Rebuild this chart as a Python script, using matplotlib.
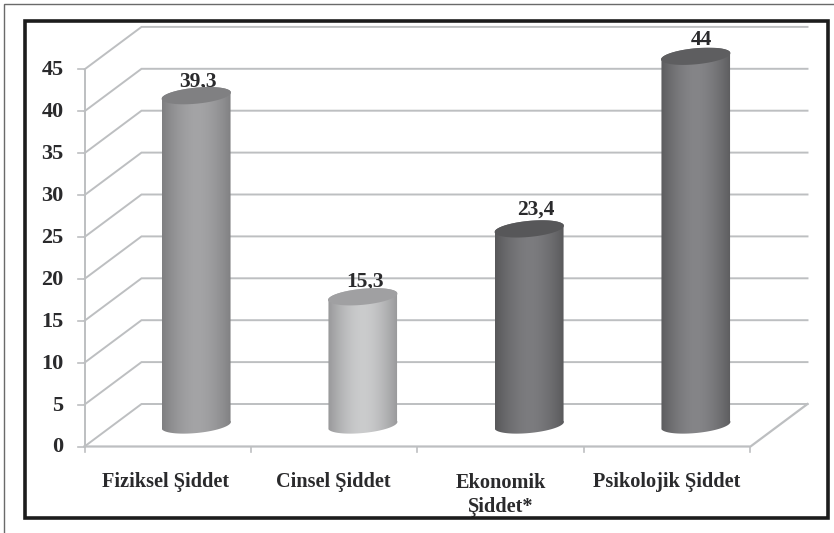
import numpy as np
import matplotlib
matplotlib.use("Agg")
import matplotlib.pyplot as plt
from matplotlib.patches import Rectangle, PathPatch
from matplotlib.path import Path

categories = ["Fiziksel Şiddet", "Cinsel Şiddet", "Ekonomik\nŞiddet*", "Psikolojik Şiddet"]
values = [39.3, 15.3, 23.4, 44]
value_labels = ["39,3", "15,3", "23,4", "44"]
yticks = [0, 5, 10, 15, 20, 25, 30, 35, 40, 45]

# colours per bar: edge of gradient, centre of gradient, top cap
edge_cols = ["#7f7f81", "#98989a", "#58585a", "#5c5c5e"]
mid_cols = ["#a4a4a6", "#cbcccd", "#7c7c7f", "#858588"]
cap_cols = ["#808082", "#a0a0a2", "#575759", "#5e5e60"]

# label placement tweaks in pixels
label_dx = [2, 2, 7, 6]
label_dy = [14, 15, 19, 16]
cat_dx = [-2, -1, 0, -1]

W, H = 834, 533
PX_X = 166.5          # px per category
PX_Y = 8.38           # px per value unit
X0, Y0 = 84.5, 446.5  # pixel of the origin

fig = plt.figure(figsize=(W / 100, H / 100), dpi=100, facecolor="white")
ax = fig.add_axes([0, 0, 1, 1])
ax.set_xlim(-X0 / PX_X, (W - X0) / PX_X)
ax.set_ylim((Y0 - H) / PX_Y, Y0 / PX_Y)
ax.axis("off")


def pxx(p):
    return p / PX_X


def pxy(p):
    return p / PX_Y


TEXT = "#2a2a2c"

# frames
fig.add_artist(Rectangle((3.5 / W, -0.02), (W + 20) / W, (H - 3.5) / H + 0.02,
                         transform=fig.transFigure, fill=False, ec="#6a6a6a", lw=1.0))
fig.add_artist(Rectangle((24.5 / W, 1 - 518 / H), (827.5 - 24.5) / W, (518 - 21) / H,
                         transform=fig.transFigure, fill=False, ec="#1c1c1c", lw=2.6))

# 3D walls
DX, DY = pxx(57), pxy(42.5)
GRID = "#bdbfc1"
n = len(categories)
for v in yticks:
    ax.plot([0, DX, DX + n], [v, v + DY, v + DY],
            color=GRID, lw=1.4, zorder=1, solid_joinstyle="miter")
    ax.plot([-pxx(7), 0], [v, v], color=GRID, lw=1.2, zorder=1)
    ax.text(-pxx(21), v - pxy(1), str(v), ha="right", va="center", family="Liberation Serif",
            fontweight="bold", fontsize=16, color=TEXT)
ax.plot([0, 0], [0, yticks[-1]], color=GRID, lw=1.4, zorder=1)
ax.plot([0, n, n + DX], [0, 0, DY], color=GRID, lw=1.6, zorder=1)
for i in range(n + 1):
    ax.plot([i, i], [0, -pxy(5)], color=GRID, lw=1.2, zorder=1)

# cylinders
TILT = np.deg2rad(5.5)
SEMI_A, SEMI_B = 34.8, 8.0


def ellipse_pts(cx, cy, t):
    ex = SEMI_A * np.cos(t)
    ey = SEMI_B * np.sin(t)
    xr = ex * np.cos(TILT) - ey * np.sin(TILT)
    yr = ex * np.sin(TILT) + ey * np.cos(TILT)
    return cx + pxx(xr), cy + pxy(yr)


def rgb(c):
    return np.array(matplotlib.colors.to_rgb(c))


for i, val in enumerate(values):
    cx = i + 0.5 + DX / 2
    cy_bot = pxy(21.5)
    cy_top = val + cy_bot

    t_low = np.linspace(np.pi + 0.12, 2 * np.pi + 0.12, 80)
    t_up = np.linspace(0.12, np.pi + 0.12, 80)
    bx, by = ellipse_pts(cx, cy_bot, t_low)
    tx, ty = ellipse_pts(cx, cy_top, t_up)
    verts = np.column_stack([np.r_[bx, tx], np.r_[by, ty]])
    clip = Path(np.vstack([verts, verts[0]]), closed=True)

    u = np.linspace(-1, 1, 128)
    s = np.clip(np.abs(u) ** 1.7, 0, 1)[None, :, None]
    img = rgb(mid_cols[i])[None, None, :] * (1 - s) + rgb(edge_cols[i])[None, None, :] * s
    x_min, x_max = verts[:, 0].min(), verts[:, 0].max()
    y_min, y_max = verts[:, 1].min(), verts[:, 1].max()
    im = ax.imshow(img, extent=[x_min, x_max, y_min, y_max], origin="lower",
                   aspect="auto", zorder=3, interpolation="bilinear")
    patch = PathPatch(clip, transform=ax.transData, fc="none", ec="none")
    ax.add_patch(patch)
    im.set_clip_path(patch)

    t = np.linspace(0, 2 * np.pi, 120)
    ex_, ey_ = ellipse_pts(cx, cy_top, t)
    ax.fill(ex_, ey_, color=cap_cols[i], zorder=4, lw=0)

    ax.text(cx + pxx(label_dx[i]), cy_top + pxy(label_dy[i]), value_labels[i],
            ha="center", va="center", family="Liberation Serif", fontweight="bold",
            fontsize=15.5, color=TEXT, zorder=2)
    ax.text(i + 0.5 + pxx(cat_dx[i]), -pxy(26), categories[i], ha="center", va="top",
            family="Liberation Serif", fontweight="bold", fontsize=14.6,
            color=TEXT, linespacing=1.3)

ax.set_xlim(-X0 / PX_X, (W - X0) / PX_X)
ax.set_ylim((Y0 - H) / PX_Y, Y0 / PX_Y)
fig.savefig("out.png", dpi=100)
